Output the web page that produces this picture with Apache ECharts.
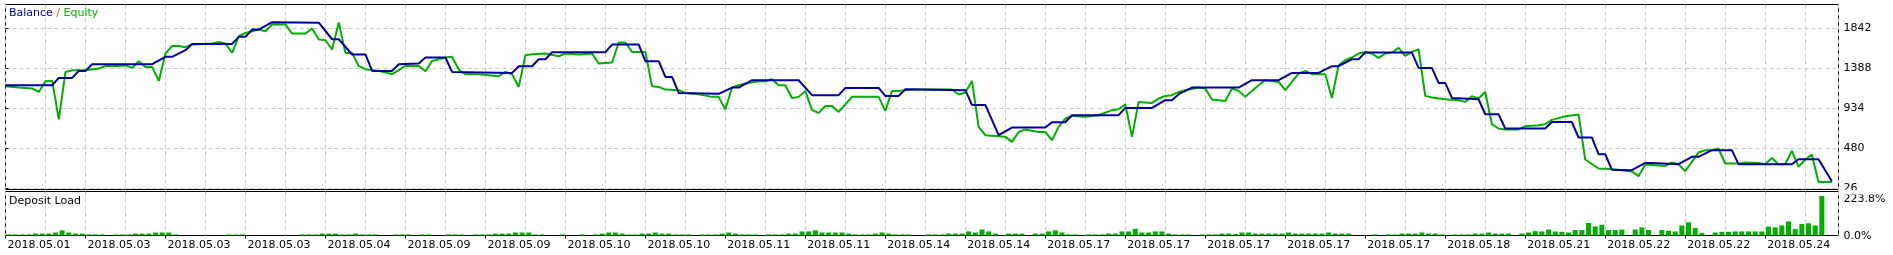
<!DOCTYPE html>
<html><head><meta charset="utf-8">
<script src="https://cdn.jsdelivr.net/npm/echarts@6/dist/echarts.min.js"></script>
<style>html,body{margin:0;padding:0;background:#fff}#c{width:1893px;height:255px}</style>
</head><body><div id="c"></div>
<script>
const xLabels = ['2018.05.01','2018.05.03','2018.05.03','2018.05.03','2018.05.04','2018.05.09','2018.05.09','2018.05.10','2018.05.10','2018.05.11','2018.05.11','2018.05.14','2018.05.14','2018.05.17','2018.05.17','2018.05.17','2018.05.17','2018.05.17','2018.05.18','2018.05.21','2018.05.22','2018.05.22','2018.05.24'];
const yTicks = [26, 480, 934, 1388, 1842];
const loadTicks = [0, 223.8];
const xSteps = 275;

const balance = [[0,1198],[7,1198],[8,1281],[10,1281],[11,1361],[12,1361],[13,1437],[22,1437],[24,1520],[25,1520],[27,1596],[28,1667],[34,1667],[35,1747],[36,1747],[37,1830],[38,1830],[40,1913],[47,1908],[49,1720],[50,1720],[52,1547],[54,1547],[55,1361],[58,1361],[59,1437],[62,1445],[63,1513],[66,1513],[67,1349],[76,1338],[77,1414],[79,1414],[80,1493],[81,1493],[82,1573],[90,1573],[91,1660],[95,1660],[96,1471],[98,1471],[99,1292],[100,1292],[101,1111],[107,1100],[109,1172],[110,1172],[112,1255],[119,1255],[121,1085],[125,1085],[126,1168],[131,1168],[132,1077],[134,1077],[135,1153],[144,1142],[145,975],[147,975],[149,631],[151,718],[156,718],[157,778],[159,778],[160,858],[167,858],[168,941],[172,941],[174,1028],[175,1028],[176,1096],[178,1172],[185,1172],[187,1255],[191,1255],[193,1338],[197,1338],[199,1414],[200,1414],[202,1493],[203,1493],[204,1569],[211,1569],[212,1395],[214,1395],[215,1224],[216,1224],[217,1054],[221,1039],[222,869],[224,869],[225,707],[231,707],[232,780],[235,780],[236,605],[238,605],[239,415],[240,415],[241,239],[244,234],[246,316],[247,316],[251,302],[253,385],[254,385],[256,461],[259,461],[260,302],[268,302],[269,358],[272,358],[274,109]];

const equity = [[0,1187],[2,1172],[4,1161],[5,1122],[6,1247],[7,1247],[8,812],[9,1349],[10,1369],[12,1369],[14,1388],[15,1417],[17,1417],[18,1425],[19,1395],[20,1470],[21,1406],[22,1406],[23,1247],[24,1558],[25,1644],[26,1644],[27,1630],[28,1660],[31,1672],[32,1690],[33,1672],[34,1565],[35,1754],[36,1792],[38,1830],[39,1811],[40,1887],[42,1887],[43,1785],[45,1785],[46,1842],[47,1717],[48,1709],[49,1604],[50,1910],[51,1565],[52,1565],[53,1414],[54,1380],[56,1361],[57,1342],[58,1323],[59,1369],[60,1417],[62,1417],[63,1357],[64,1474],[66,1513],[67,1520],[68,1377],[69,1323],[71,1323],[74,1300],[75,1349],[76,1323],[77,1179],[78,1539],[79,1550],[81,1558],[83,1527],[84,1558],[86,1547],[88,1558],[89,1445],[91,1456],[92,1683],[93,1683],[94,1576],[96,1576],[97,1187],[98,1179],[99,1149],[101,1142],[102,1111],[104,1096],[106,1066],[107,1066],[108,922],[109,1172],[110,1198],[111,1218],[113,1244],[114,1244],[115,1266],[116,1198],[117,1198],[118,1054],[119,1066],[120,1134],[121,915],[122,884],[123,963],[124,963],[125,895],[127,1066],[131,1066],[132,907],[133,1134],[134,1134],[136,1149],[142,1149],[143,1093],[144,1115],[145,1247],[146,725],[147,631],[149,619],[150,612],[151,555],[152,668],[153,695],[155,668],[156,668],[157,574],[158,725],[159,820],[160,850],[162,839],[164,858],[166,915],[167,926],[168,983],[169,612],[170,1009],[172,997],[173,1047],[174,1077],[175,1085],[176,1122],[177,1142],[179,1172],[180,1161],[181,1036],[183,1020],[184,1161],[185,1134],[186,1066],[188,1198],[189,1255],[191,1236],[192,1142],[194,1331],[195,1361],[196,1323],[198,1323],[199,1054],[200,1425],[201,1482],[202,1513],[203,1558],[204,1576],[205,1558],[206,1508],[207,1558],[208,1569],[209,1622],[210,1531],[211,1576],[212,1607],[213,1077],[214,1059],[216,1039],[218,1028],[219,1009],[220,1073],[221,1047],[222,1122],[223,756],[224,707],[225,696],[227,696],[228,733],[230,744],[231,756],[232,805],[234,846],[236,866],[237,355],[239,253],[241,247],[244,220],[245,166],[246,298],[249,282],[250,321],[251,302],[252,222],[254,434],[255,461],[256,461],[257,480],[258,310],[260,310],[261,321],[263,316],[264,302],[265,373],[266,302],[267,302],[268,453],[269,271],[270,355],[271,412],[272,101],[274,101]];

const depositLoad = [
6,6,6,6,11,11,11,17,29,17,
11,11,6,6,6,0,6,6,6,11,
11,11,17,17,17,6,0,0,0,0,
0,0,0,6,6,6,0,0,0,0,
0,0,0,0,6,6,6,11,11,11,
6,6,11,6,6,6,0,0,6,6,
6,0,6,6,0,0,6,6,6,0,
6,6,6,11,11,11,17,17,17,6,
6,0,0,6,0,0,6,0,6,11,
17,17,11,6,6,11,11,17,11,11,
6,6,6,0,6,6,6,11,17,11,
6,6,6,0,6,6,6,11,11,23,
23,29,17,17,17,17,11,6,6,6,
11,17,11,6,6,6,0,0,6,6,
6,11,11,11,23,17,34,23,11,0,
11,11,11,0,11,11,23,29,17,6,
6,0,6,6,6,11,11,23,23,38,
17,17,23,23,11,6,6,6,0,6,
6,6,11,11,8,17,17,11,11,11,
11,11,17,11,11,11,11,11,17,11,
11,11,0,0,0,6,0,6,6,11,
11,11,17,11,11,6,0,6,6,6,
11,11,17,11,11,11,0,11,17,25,
23,34,23,21,17,31,31,71,52,61,
31,31,34,0,34,46,31,0,31,27,
23,57,75,42,15,0,17,21,21,23,
23,23,23,23,50,46,57,80,36,65,
69,57,223.8,0,0];

const FONT = 'DejaVu Sans';
const GRIDC = '#c8c8c8';
const BLUE = '#0000a0';
const GREEN = '#00b000';
const dashed = {show: true, lineStyle: {color: GRIDC, width: 1, type: [4, 3]}};

const chart = echarts.init(document.getElementById('c'), null, {renderer: 'canvas'});
chart.setOption({
  animation: false,
  textStyle: {fontFamily: FONT},
  title: [
    {text: '{b|Balance} {s|/} {e|Equity}', left: 9, top: 8, padding: 0,
     textStyle: {fontSize: 11, fontWeight: 'normal', fontFamily: FONT,
       rich: {b: {color: BLUE, fontSize: 11, fontFamily: FONT},
              s: {color: '#c86400', fontSize: 11, fontFamily: FONT},
              e: {color: GREEN, fontSize: 11, fontFamily: FONT}}}},
    {text: 'Deposit Load', left: 9, top: 195.5, padding: 0,
     textStyle: {fontSize: 11, fontWeight: 'normal', color: '#000', fontFamily: FONT}}
  ],
  grid: [
    {left: 5.5, top: 4.5, width: 1833, height: 185, show: true, borderColor: '#000', borderWidth: 1, backgroundColor: '#fff'},
    {left: 5.5, top: 191.5, width: 1833, height: 44, show: true, borderColor: '#000', borderWidth: 1, backgroundColor: '#fff'}
  ],
  xAxis: [
    {gridIndex: 0, type: 'value', min: 0, max: xSteps, interval: 6,
     axisLine: {show: false}, axisTick: {show: false}, axisLabel: {show: false}, splitLine: dashed},
    {gridIndex: 1, type: 'value', min: 0, max: xSteps, interval: 6,
     axisLine: {show: false}, axisTick: {show: false}, axisLabel: {show: false}, splitLine: dashed},
    {gridIndex: 1, type: 'value', min: 0, max: xSteps, interval: 12, position: 'bottom',
     axisLine: {show: false},
     axisTick: {show: true, length: 3, lineStyle: {color: '#000'}},
     axisLabel: {show: true, align: 'left', margin: 4, padding: [0, 0, 0, 2], fontSize: 11, color: '#000', fontFamily: FONT,
       showMaxLabel: false,
       formatter: v => (Math.abs(v / 12 - Math.round(v / 12)) < 1e-6 && xLabels[Math.round(v / 12)]) || ''},
     splitLine: {show: false}},
    {gridIndex: 1, type: 'category', data: depositLoad.map((_, i) => i), show: false}
  ],
  yAxis: [
    {gridIndex: 0, type: 'value', min: 14.65, max: 2114.4, position: 'right',
     axisLine: {show: false},
     axisTick: {show: true, length: 3, customValues: yTicks, lineStyle: {color: '#000'}},
     axisLabel: {customValues: yTicks, margin: 5, fontSize: 11, color: '#000', fontFamily: FONT,
       formatter: v => String(Math.round(v))},
     splitLine: dashed},
    {gridIndex: 1, type: 'value', min: 0, max: 249.3, position: 'right',
     axisLine: {show: false}, axisTick: {show: false},
     axisLabel: {customValues: loadTicks, margin: 5, fontSize: 11, color: '#000', fontFamily: FONT,
       formatter: v => v === 0 ? '{z|0.0%}' : '{t|' + v.toFixed(1) + '%}',
       rich: {t: {fontSize: 11, fontFamily: FONT, color: '#000', padding: [6, 0, 0, 0]},
              z: {fontSize: 11, fontFamily: FONT, color: '#000', padding: [2, 0, 0, 0]}}},
     splitLine: {show: false}}
  ],
  graphic: [
    {type: 'rect', z: 100, shape: {x: 1839, y: 190, width: 40, height: 4.5}, style: {fill: '#fff'}}
  ],
  series: [
    {name: 'Equity', type: 'line', xAxisIndex: 0, yAxisIndex: 0, data: equity, symbol: 'none',
     lineStyle: {color: GREEN, width: 2}, z: 2},
    {name: 'Balance', type: 'line', xAxisIndex: 0, yAxisIndex: 0, data: balance, symbol: 'none',
     lineStyle: {color: BLUE, width: 2}, z: 3},
    {name: 'Deposit Load', type: 'bar', xAxisIndex: 3, yAxisIndex: 1, data: depositLoad, barWidth: 5,
     itemStyle: {color: GREEN}}
  ]
});
</script>
</body></html>
